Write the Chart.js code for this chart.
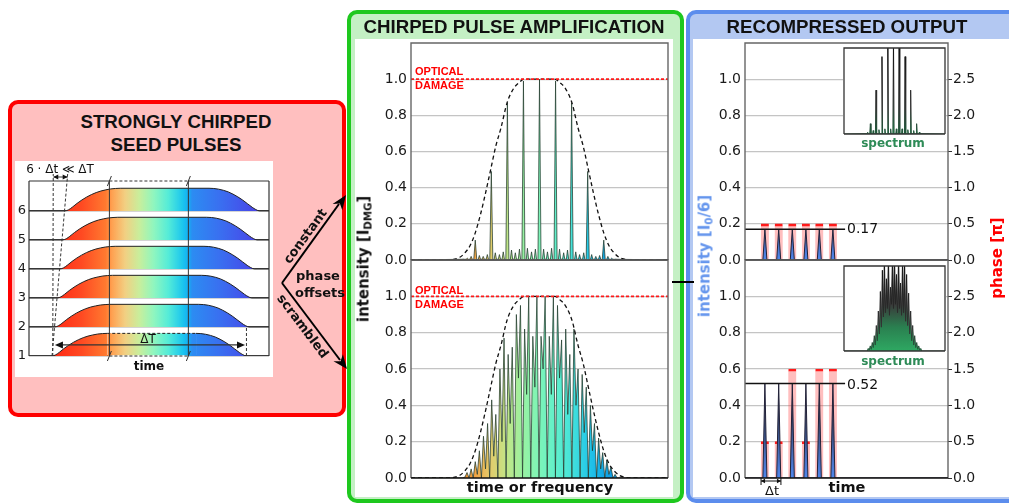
<!DOCTYPE html>
<html>
<head>
<meta charset="utf-8">
<title>Chirped pulse amplification</title>
<script src="https://cdn.jsdelivr.net/npm/chart.js@4.4.1/dist/chart.umd.min.js"></script>
<style>
  body { margin: 0; background: #fff; }
  #page { position: relative; width: 1009px; height: 504px; overflow: hidden; font-family: 'DejaVu Sans', sans-serif; color: #111; }
  .box { position: absolute; box-sizing: border-box; }
  #charts { position: absolute; left: 0; top: 0; width: 1009px; height: 504px; }
  canvas { position: absolute; }
  .t { position: absolute; transform: translate(-50%, -50%); white-space: nowrap; line-height: 1; }
  .tl { position: absolute; transform: translate(0, -50%); white-space: nowrap; line-height: 1; }
  .rot { transform: translate(-50%, -50%) rotate(-90deg); }
  .head { font-family: 'Liberation Sans', Arial, sans-serif; font-weight: bold; font-size: 18.7px; color: #111; }
  .b { font-weight: bold; }
  .dmg { position: absolute; font-family: 'Liberation Sans', Arial, sans-serif; font-weight: bold; font-size: 11px; line-height: 13.5px; color: #f00; }
  sub { font-size: 0.68em; vertical-align: -0.25em; line-height: 0; }
</style>
</head>
<body>
<div id="page">
  <div class="box" style="left:8px;top:100px;width:338px;height:317px;background:#ffbfbf;border:4px solid #ff0000;border-radius:10px"></div>
  <div class="box" style="left:15px;top:161px;width:258px;height:216px;background:#fff"></div>
  <div class="box" style="left:347px;top:10px;width:337px;height:493px;background:#c4f0c4;border:4px solid #1ec81e;border-radius:10px"></div>
  <div class="box" style="left:355px;top:39px;width:318px;height:458px;background:#fff"></div>
  <div class="box" style="left:686px;top:10px;width:340px;height:493px;background:#b3c8f2;border:4px solid #5c8ded;border-radius:10px"></div>
  <div class="box" style="left:693px;top:39px;width:330px;height:458px;background:#fff"></div>
  <div class="box" style="left:672px;top:281px;width:22px;height:1.5px;background:#000"></div>

  <div id="charts"></div>

  <div class="t head" style="left:176px;top:122px">STRONGLY CHIRPED</div>
  <div class="t head" style="left:176px;top:145px">SEED PULSES</div>
  <div class="t head" style="left:514px;top:27px">CHIRPED PULSE AMPLIFICATION</div>
  <div class="t head" style="left:847px;top:27px">RECOMPRESSED OUTPUT</div>

  <div class="t" style="left:60px;top:169px;font-size:12px">6 · Δt ≪ ΔT</div>
  <div class="t" style="left:148px;top:339px;font-size:12px">ΔT</div>
  <div class="t b" style="left:149px;top:366px;font-size:12px">time</div>

  <div class="t b rot" style="left:364px;top:259px;font-size:15px">intensity [I<sub>DMG</sub>]</div>
  <div class="dmg" style="left:415px;top:65px">OPTICAL<br>DAMAGE</div>
  <div class="dmg" style="left:415px;top:284px">OPTICAL<br>DAMAGE</div>
  <div class="t b" style="left:540px;top:487px;font-size:14.5px">time or frequency</div>

  <div class="t b rot" style="left:705px;top:256px;font-size:15px;color:#6495ed">intensity [I<sub>0</sub>/6]</div>
  <div class="t b rot" style="left:997px;top:258px;font-size:15px;color:#ff0000">phase [π]</div>
  <div class="tl" style="left:847px;top:228px;font-size:14px">0.17</div>
  <div class="tl" style="left:847px;top:384px;font-size:14px">0.52</div>
  <div class="t b" style="left:893px;top:143px;font-size:12px;color:#2e8b57">spectrum</div>
  <div class="t b" style="left:893px;top:361px;font-size:12px;color:#2e8b57">spectrum</div>
  <div class="t b" style="left:847px;top:487px;font-size:14.5px">time</div>
  <div class="t" style="left:772px;top:490px;font-size:13px">Δt</div>

  <svg class="box" style="left:0;top:0" width="1009" height="504">
    <g stroke="#000" stroke-width="2" fill="none">
      <line x1="282" y1="283" x2="339" y2="204"/>
      <line x1="282" y1="283" x2="340" y2="360"/>
    </g>
    <polygon points="346,195 342.3,210.3 339.9,203.6 332.6,204.1" fill="#000"/>
    <polygon points="347,369 333.5,361.2 340.6,361.2 342.9,354.3" fill="#000"/>
    <g font-family="DejaVu Sans" font-weight="bold" font-size="13" text-anchor="middle" dominant-baseline="central" fill="#111">
      <text transform="translate(305,236) rotate(-54)">constant</text>
      <text transform="translate(303,326) rotate(53)">scrambled</text>
      <text x="318" y="275">phase</text>
      <text x="320" y="292">offsets</text>
    </g>
  </svg>
</div>

<script>
// ---------- seed pulses (left) ----------
const seedRows = [1, 2, 3, 4, 5, 6];
const seedStart = [9.6, 10.7, 11.8, 12.9, 14.0, 15.0];
const seedProfileU = [0, 1.5, 3, 5, 7, 9, 11, 13, 15, 17, 19, 21, 23, 60, 62, 64, 66, 68, 70, 72, 74, 76, 78, 79.5, 81];
const seedProfileA = [0, 0.05, 0.16, 0.33, 0.48, 0.61, 0.72, 0.81, 0.88, 0.93, 0.97, 0.99, 1, 1, 0.99, 0.96, 0.91, 0.84, 0.74, 0.62, 0.48, 0.32, 0.16, 0.06, 0];
const seedHeight = 0.78;
const seedTicks = [1, 2, 3, 4, 5, 6];
const seedWindow = [33.5, 66.4];
const seedDeltaT = [10.8, 90.0];

// ---------- chirped pulse amplification (middle) ----------
const cpaPeakX = [25, 31.25, 37.5, 43.75, 50, 56.25, 62.5, 68.75, 75];
const cpaPeakY = [0.11, 0.49, 0.87, 0.99, 1.0, 0.99, 0.87, 0.49, 0.11];
const cpaRippleX = [20.3, 21.9, 23.4, 26.6, 28.1, 29.7, 32.8, 34.4, 35.9, 39.1, 40.6, 42.2, 45.3, 46.9, 48.4,
                    51.6, 53.1, 54.7, 57.8, 59.4, 60.9, 64.1, 65.6, 67.2, 70.3, 71.9, 73.4, 76.6, 78.1, 79.7];
const cpaRippleY = [0.005, 0.01, 0.02, 0.025, 0.02, 0.03, 0.04, 0.03, 0.045, 0.055, 0.04, 0.06, 0.065, 0.045, 0.06,
                    0.06, 0.045, 0.065, 0.06, 0.04, 0.055, 0.045, 0.03, 0.04, 0.03, 0.02, 0.025, 0.02, 0.01, 0.005];
const cpaScrX = [20.0, 21.0, 21.8, 22.6, 23.4, 24.2, 25.0, 25.8, 26.6, 27.4, 28.2, 29.0, 29.8, 30.6, 31.4, 32.2,
                 33.0, 33.8, 34.6, 35.4, 36.2, 37.0, 37.8, 38.6, 39.4, 40.2, 41.0, 41.8, 42.6, 43.4, 44.2, 45.0,
                 45.8, 46.6, 47.4, 48.2, 49.0, 49.8, 50.6, 51.4, 52.2, 53.0, 53.8, 54.6, 55.4, 56.2, 57.0, 57.8,
                 58.6, 59.4, 60.2, 61.0, 61.8, 62.6, 63.4, 64.2, 65.0, 65.8, 66.6, 67.4, 68.2, 69.0, 69.8, 70.6,
                 71.4, 72.2, 73.0, 73.8, 74.6, 75.4, 76.2, 77.0, 77.8, 78.6, 79.4, 80.2];
const cpaScrY = [0, 0.005, 0.03, 0, 0.05, 0, 0.09, 0.02, 0.15, 0, 0.23, 0.05, 0.3, 0, 0.43, 0.12,
                 0.35, 0, 0.6, 0.2, 0.77, 0, 0.68, 0.3, 0.72, 0, 0.9, 0.55, 0.95, 0, 0.82, 0.46,
                 1.0, 0, 0.78, 0.5, 1.0, 0, 0.78, 0.6, 1.0, 0, 0.78, 0.46, 1.0, 0, 0.95, 0.55,
                 0.76, 0, 0.82, 0.35, 0.68, 0, 0.82, 0.4, 0.6, 0, 0.57, 0.25, 0.5, 0, 0.4, 0.15,
                 0.3, 0, 0.22, 0.05, 0.14, 0, 0.1, 0.02, 0.06, 0, 0.02, 0];
const cpaEnvX = [0, 15, 17, 19, 21, 23, 25, 27, 29, 31, 33, 35, 37.4, 40, 42, 44, 56, 58, 60, 62.6, 65, 67, 69, 71, 73, 75, 77, 79, 81, 83, 85, 100];
const cpaEnvY = [0, 0, 0.005, 0.015, 0.04, 0.08, 0.15, 0.25, 0.37, 0.5, 0.63, 0.73, 0.87, 0.95, 0.98, 1.0, 1.0, 0.98, 0.95, 0.87, 0.73, 0.63, 0.5, 0.37, 0.25, 0.15, 0.08, 0.04, 0.015, 0.005, 0, 0];
const damageLevel = 1.0;
const intensityTicks = [0, 0.2, 0.4, 0.6, 0.8, 1.0];

// ---------- recompressed output (right) ----------
const recX = [9.8, 16.6, 23.3, 30.0, 36.6, 43.3];
const recIntConst = [0.17, 0.17, 0.17, 0.17, 0.17, 0.17];
const recPhaseConst = [0.5, 0.5, 0.5, 0.5, 0.5, 0.5];
const recIntScr = [0.52, 0.52, 0.52, 0.52, 0.52, 0.52];
const recPhaseScr = [0.5, 0.5, 1.5, 0.5, 1.5, 1.5];
const levelConst = 0.17, levelScr = 0.52;
const phaseTicks = [0, 0.5, 1.0, 1.5, 2.0, 2.5];

const specX = [26.1, 31.7, 37.6, 43.4, 49.0, 54.6, 60.5, 66.0, 71.9];
const specY = [0.12, 0.51, 0.9, 1.1, 1.1, 1.1, 0.9, 0.51, 0.12];
const specRippleX = [23.4, 28.9, 34.6, 40.5, 46.2, 51.8, 57.5, 63.2, 69.0, 74.6];
const specRippleY = [0.02, 0.04, 0.05, 0.06, 0.06, 0.06, 0.06, 0.05, 0.04, 0.02];
const specScrX = [23, 24, 25, 26, 27, 28, 29, 30, 31, 32, 33, 34, 35, 36, 37, 38, 39, 40, 41, 42, 43, 44, 45, 46, 47, 48, 49, 50,
                  51, 52, 53, 54, 55, 56, 57, 58, 59, 60, 61, 62, 63, 64, 65, 66, 67, 68, 69, 70, 71, 72, 73, 74, 75, 76, 77];
const specScrY = [0, 0.03, 0.01, 0.06, 0.02, 0.1, 0.04, 0.18, 0.07, 0.3, 0.12, 0.47, 0.2, 0.7, 0.28, 0.95, 0.4, 1.1, 0.45, 0.85,
                  0.5, 1.1, 0.42, 0.75, 0.55, 1.1, 0.5, 1.1, 0.55, 0.9, 0.45, 1.1, 0.5, 0.8, 0.42, 1.1, 0.45, 1.05, 0.35, 0.9,
                  0.3, 0.68, 0.2, 0.47, 0.12, 0.3, 0.07, 0.18, 0.04, 0.1, 0.02, 0.06, 0.01, 0.03, 0];

// ---------- helpers ----------
Chart.defaults.font.family = "'DejaVu Sans', sans-serif";
Chart.defaults.color = '#1a1a1a';
Chart.defaults.plugins.legend.display = false;
Chart.defaults.plugins.tooltip.enabled = false;
Chart.defaults.elements.point.radius = 0;

const seedColors = [[9, '#ff2412'], [22, '#ff4a22'], [32, '#ff7a30'], [34.5, '#ffa050'], [40, '#f2cf82'], [46, '#c8ee9c'],
                    [52, '#8ff6bf'], [58, '#55ecd8'], [64, '#1cc6ee'], [66.4, '#14aef2'], [68, '#2c8cf2'], [80, '#3a6ef0'], [97, '#4b3ee6']];
const cpaColors = [[18, '#f08a28'], [25, '#f2a446'], [31, '#e2cc6c'], [37.5, '#c0e688'], [44, '#96f2a4'], [50, '#7cf4b8'],
                   [56, '#62f0ca'], [62.5, '#44e2da'], [69, '#24c8e8'], [75, '#12a8e6'], [82, '#1090e0']];

function hGrad(chart, stops) {
  const x = chart.scales.x;
  const x0 = x.getPixelForValue(0), x1 = x.getPixelForValue(100);
  const g = chart.ctx.createLinearGradient(x0, 0, x1, 0);
  stops.forEach(([u, c]) => g.addColorStop(u / 100, c));
  return g;
}
function vGrad(chart, stops) {
  const a = chart.chartArea;
  const g = chart.ctx.createLinearGradient(0, a.bottom, 0, a.top);
  stops.forEach(([f, c]) => g.addColorStop(f, c));
  return g;
}
function zip(xs, ys) { return xs.map((x, i) => ({x, y: ys[i]})); }
function spikeTrace(px, py, halfW, rx, ry, rHalf) {
  const pts = [{x: 0, y: 0}, {x: 100, y: 0}];
  px.forEach((x, i) => pts.push({x: x - halfW, y: 0}, {x, y: py[i]}, {x: x + halfW, y: 0}));
  rx.forEach((x, i) => pts.push({x: x - rHalf, y: 0.004}, {x, y: ry[i]}, {x: x + rHalf, y: 0.004}));
  return pts.sort((a, b) => a.x - b.x);
}
function chartAt(L, T, W, H, cfg) {
  const cv = document.createElement('canvas');
  cv.width = W; cv.height = H;
  cv.style.left = L + 'px'; cv.style.top = T + 'px';
  cv.style.width = W + 'px'; cv.style.height = H + 'px';
  document.getElementById('charts').appendChild(cv);
  cfg.options = Object.assign({responsive: false, animation: false}, cfg.options);
  return new Chart(cv, cfg);
}
function arrowHead(ctx, x, y, dx, dy, len, w) {
  const n = Math.hypot(dx, dy); dx /= n; dy /= n;
  ctx.beginPath();
  ctx.moveTo(x, y);
  ctx.lineTo(x - dx * len - dy * w, y - dy * len + dx * w);
  ctx.lineTo(x - dx * len + dy * w, y - dy * len - dx * w);
  ctx.closePath();
  ctx.fill();
}
function seg(ctx, x0, y0, x1, y1, dash) {
  ctx.setLineDash(dash || []);
  ctx.beginPath(); ctx.moveTo(x0, y0); ctx.lineTo(x1, y1); ctx.stroke();
}

const framePlugin = {
  id: 'frame',
  defaults: {color: '#666', bottom: '#111', width: 1.4},
  afterDatasetsDraw(chart, args, o) {
    const {ctx, chartArea: a} = chart;
    ctx.save();
    ctx.lineWidth = o.width;
    ctx.strokeStyle = o.color;
    ctx.beginPath();
    ctx.moveTo(a.left, a.bottom); ctx.lineTo(a.left, a.top); ctx.lineTo(a.right, a.top); ctx.lineTo(a.right, a.bottom);
    ctx.stroke();
    ctx.strokeStyle = o.bottom;
    seg(ctx, a.left, a.bottom, a.right, a.bottom);
    ctx.restore();
  }
};
Chart.register(framePlugin);

const leftAxis = w => ({
  position: 'left', min: 0, max: 1.2,
  afterFit: s => { s.width = w; },
  afterBuildTicks: s => { s.ticks = intensityTicks.map(v => ({value: v})); },
  ticks: {callback: v => v.toFixed(1), padding: 4, font: {size: 14}, color: '#1a1a1a'},
  grid: {color: '#c4c4c4', lineWidth: 1.2, drawTicks: false},
  border: {display: false}
});
const xAxis = {type: 'linear', min: 0, max: 100, display: false, offset: false};
// every plot area keeps 20px of canvas above and below it for the tick labels
const upperPad = {left: 0, right: 9, top: 20, bottom: 20};
const lowerPad = {left: 0, right: 9, top: 20, bottom: 20};

// ---------- left: seed pulses ----------
const seedSets = seedRows.map((row, i) => ({
  data: [{x: 0, y: row}].concat(seedProfileU.map((u, j) => ({x: seedStart[i] + u, y: row + seedHeight * seedProfileA[j]})), [{x: 100, y: row}]),
  borderColor: '#222',
  borderWidth: 1,
  cubicInterpolationMode: 'monotone',
  fill: {value: row},
  backgroundColor: c => c.chart.chartArea ? hGrad(c.chart, seedColors) : 'transparent',
  segment: i === 0 ? {borderDash: c => (c.p0.parsed.y === row + seedHeight && c.p1.parsed.y === row + seedHeight) ? [3, 2] : undefined} : undefined
}));

const seedMarks = {
  id: 'seedMarks',
  afterDatasetsDraw(chart) {
    const {ctx, chartArea: a, scales: {x, y}} = chart;
    const X = u => x.getPixelForValue(u), Y = v => y.getPixelForValue(v);
    const l1 = X(seedWindow[0]), l2 = X(seedWindow[1]);
    ctx.save();
    ctx.strokeStyle = '#333'; ctx.fillStyle = '#111'; ctx.lineWidth = 1.2;
    seg(ctx, a.left, a.top, a.left, a.bottom);
    seg(ctx, a.right, a.top, a.right, a.bottom);
    seg(ctx, a.left, a.top, l1, a.top);
    seg(ctx, l2, a.top, a.right, a.top);
    seg(ctx, l1, a.top, l2, a.top, [3, 2]);
    ctx.strokeStyle = '#fff'; ctx.lineWidth = 1.6;
    seg(ctx, l1 + 1, a.bottom, l2 - 1, a.bottom);
    ctx.strokeStyle = '#333'; ctx.lineWidth = 1.2;
    seg(ctx, l1, a.bottom, l2, a.bottom, [3, 2]);
    ctx.lineWidth = 1;
    [l1, l2].forEach(lx => {
      seg(ctx, lx, a.top, lx, a.bottom);
      seg(ctx, lx - 2, a.top + 5, lx + 2, a.top - 5);
      seg(ctx, lx - 2, a.bottom + 5, lx + 2, a.bottom - 5);
    });
    // 6·Δt construction
    const s0 = seedStart[0], s5 = seedStart[5];
    const topShift = s0 + (s5 - s0) * (y.max - 1) / 5;
    seg(ctx, X(s0 + 0.3), a.bottom, X(s0 + 0.5), a.top - 7, [3, 2]);
    seg(ctx, X(s0), a.bottom, X(topShift), a.top - 7, [3, 2]);
    seg(ctx, X(s0 + 0.6), a.top - 4, X(topShift), a.top - 4);
    arrowHead(ctx, X(s0 + 0.5), a.top - 4, -1, 0, 5, 2.5);
    arrowHead(ctx, X(topShift), a.top - 4, 1, 0, 5, 2.5);
    // ΔT arrow
    const yA = Y(1.38);
    ctx.lineWidth = 1.3;
    seg(ctx, X(seedDeltaT[0]) + 3, yA, X(seedDeltaT[1]) - 3, yA);
    arrowHead(ctx, X(seedDeltaT[0]), yA, -1, 0, 8, 3.5);
    arrowHead(ctx, X(seedDeltaT[1]), yA, 1, 0, 8, 3.5);
    ctx.lineWidth = 1;
    seg(ctx, X(s0 + 81), Y(1), X(s0 + 81), Y(2), [3, 2]);
    ctx.restore();
  }
};

chartAt(15, 161, 258, 216, {
  type: 'line',
  data: {datasets: seedSets},
  options: {
    layout: {autoPadding: false, padding: {left: 0, right: 4, top: 20, bottom: 21}},
    scales: {
      x: xAxis,
      y: {
        min: 1, max: 7.03,
        afterFit: s => { s.width = 14; },
        afterBuildTicks: s => { s.ticks = seedTicks.map(v => ({value: v})); },
        ticks: {callback: v => String(v), padding: 3, font: {size: 13}, color: '#1a1a1a'},
        grid: {color: '#555', lineWidth: 1.2, drawTicks: false},
        border: {display: false}
      }
    },
    plugins: {frame: false}
  },
  plugins: [seedMarks]
});

// ---------- middle: CPA ----------
function cpaConfig(trace, pad) {
  return {
    type: 'line',
    data: {datasets: [
      {data: [{x: 0, y: damageLevel}, {x: 100, y: damageLevel}], borderColor: '#ff1a1a', borderWidth: 1.6, borderDash: [3, 2], order: 0},
      {data: zip(cpaEnvX, cpaEnvY), borderColor: '#111', borderWidth: 1.3, borderDash: [4, 3], cubicInterpolationMode: 'monotone', order: 1},
      {data: trace, borderColor: 'rgba(35,60,45,0.75)', borderWidth: 1, fill: 'origin',
       backgroundColor: c => c.chart.chartArea ? hGrad(c.chart, cpaColors) : 'transparent', order: 2}
    ]},
    options: {
      layout: {autoPadding: false, padding: pad},
      scales: {x: xAxis, y: leftAxis(56)}
    }
  };
}
// plot areas: x 411-668, upper y 43-260, lower y 260-478
chartAt(355, 23, 322, 257, cpaConfig(spikeTrace(cpaPeakX, cpaPeakY, 0.6, cpaRippleX, cpaRippleY, 0.45), upperPad));
chartAt(355, 240, 322, 258, cpaConfig([{x: 0, y: 0}].concat(zip(cpaScrX, cpaScrY), [{x: 100, y: 0}]), lowerPad));

// ---------- right: recompressed ----------
const dtMark = {
  id: 'dtMark',
  afterDraw(chart, args, o) {
    if (!o.show) return;
    const {ctx, chartArea: a, scales: {x}} = chart;
    const x0 = x.getPixelForValue(7.9), x1 = x.getPixelForValue(17.7), yy = a.bottom + 3;
    ctx.save();
    ctx.strokeStyle = '#111'; ctx.fillStyle = '#111'; ctx.lineWidth = 1;
    seg(ctx, x0, yy - 3, x0, yy + 4);
    seg(ctx, x1, yy - 3, x1, yy + 4);
    seg(ctx, x0, yy, x1, yy);
    arrowHead(ctx, x0, yy, -1, 0, 4, 2.2);
    arrowHead(ctx, x1, yy, 1, 0, 4, 2.2);
    ctx.restore();
  }
};
function recConfig(ints, phases, level, showDt) {
  return {
    type: 'line',
    data: {datasets: [
      {data: [{x: 0, y: level}, {x: 49.3, y: level}], borderColor: '#111', borderWidth: 1.5, order: 0},
      {data: spikeTrace(recX, ints, 1.0, [], [], 0), borderColor: '#23233a', borderWidth: 1, fill: 'origin',
       backgroundColor: c => c.chart.chartArea ? vGrad(c.chart, [[0, '#4f86ec'], [0.35, '#30344a'], [1, '#262636']]) : 'transparent', order: 1},
      {type: 'bar', data: zip(recX, phases), yAxisID: 'y2', barThickness: 8, grouped: false,
       backgroundColor: 'rgba(255,40,40,0.3)', borderColor: '#ff1a1a',
       borderWidth: {top: 2, left: 0, right: 0, bottom: 0}, borderSkipped: false, order: 2}
    ]},
    options: {
      layout: {autoPadding: false, padding: {left: 0, right: 0, top: 20, bottom: 20}},
      scales: {
        x: xAxis,
        y: leftAxis(52),
        y2: {
          position: 'right', min: 0, max: 3,
          afterFit: s => { s.width = 61; },
          afterBuildTicks: s => { s.ticks = phaseTicks.map(v => ({value: v})); },
          ticks: {callback: v => v.toFixed(1), padding: 1, font: {size: 14}, color: '#1a1a1a'},
          grid: {drawOnChartArea: false, drawTicks: true, tickLength: 4, color: '#333'},
          border: {display: false}
        }
      },
      plugins: {dtMark: {show: showDt}}
    },
    plugins: [dtMark]
  };
}
// plot areas: x 745-948, same rows as the middle panel
chartAt(693, 23, 316, 257, recConfig(recIntConst, recPhaseConst, levelConst, false));
chartAt(693, 240, 316, 258, recConfig(recIntScr, recPhaseScr, levelScr, true));

// ---------- spectrum insets ----------
const whiteBg = {
  id: 'whiteBg',
  beforeDraw(chart) {
    const {ctx, width, height} = chart;
    ctx.save(); ctx.fillStyle = '#fff'; ctx.fillRect(0, 0, width, height); ctx.restore();
  }
};
function specConfig(trace) {
  return {
    type: 'line',
    data: {datasets: [{
      data: trace, borderWidth: 1, fill: 'origin',
      borderColor: c => c.chart.chartArea ? vGrad(c.chart, [[0, '#1f5a3a'], [0.3, '#333'], [1, '#111']]) : '#111',
      backgroundColor: c => c.chart.chartArea ? vGrad(c.chart, [[0, '#2ea862'], [0.28, '#2a8050'], [0.55, '#3a3a3a'], [1, '#151515']]) : 'transparent'
    }]},
    options: {
      layout: {autoPadding: false, padding: 1},
      scales: {x: xAxis, y: {min: 0, max: 1, display: false}},
      plugins: {frame: {color: '#333', bottom: '#333', width: 1.3}}
    },
    plugins: [whiteBg]
  };
}
chartAt(843, 47, 103, 88, specConfig(spikeTrace(specX, specY, 0.6, specRippleX, specRippleY, 0.5)));
chartAt(843, 265, 103, 87, specConfig([{x: 0, y: 0}].concat(zip(specScrX, specScrY), [{x: 100, y: 0}])));
</script>
</body>
</html>
